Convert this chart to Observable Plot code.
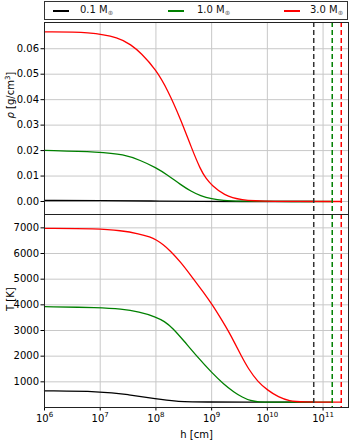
<!DOCTYPE html>
<html><head><meta charset="utf-8">
<script src="https://cdn.jsdelivr.net/npm/d3@7"></script>
<script src="https://cdn.jsdelivr.net/npm/@observablehq/plot@0.6"></script>
<style>
body{margin:0;background:#fff;font-family:"DejaVu Sans",sans-serif;}
#wrap{position:relative;width:352px;height:440px;overflow:hidden;}
#legend{position:absolute;left:44px;top:1px;width:302px;height:17px;border:1px solid #333;box-sizing:content-box;font-size:10px;}
#legend .ln{position:absolute;top:8px;width:16px;height:1.5px;}
#legend .lt{position:absolute;top:2px;line-height:12px;white-space:nowrap;color:#111;}
#legend sub{font-size:6.5px;color:#777;vertical-align:-2px;}
#top,#bot{position:absolute;left:0;}
#top{top:0;}
#bot{top:214px;}
</style></head>
<body><div id="wrap">
<div id="top"></div><div id="bot"></div>
<div id="legend"></div>
</div>
<script>
// ---- data ----
const masses = ["0.1", "1.0", "3.0"];
const colors = ["#000000", "#008000", "#ff0000"];
// dashed boundary positions h [cm]
const boundaries = [6.8e10, 1.46e11, 2.12e11];

// density rho [g/cm^3] vs log10 h
const rhoLogH_01 = [6.0, 7.0, 8.0, 8.5, 10.83];
const rho_01     = [0.0004, 0.0004, 0.0002, 0.0, 0.0];
const rhoLogH_10 = [6.0, 7.0, 7.42, 7.72, 8.0, 8.21, 8.45, 8.63, 8.8, 9.0, 9.2, 9.5, 10.0, 11.165];
const rho_10     = [0.0201, 0.0195, 0.0185, 0.0162, 0.0133, 0.0104, 0.0065, 0.0040, 0.0022, 0.0010, 0.0004, 0.0001, 0.0, 0.0];
const rhoLogH_30 = [6.0, 6.83, 7.34, 7.55, 7.73, 8.0, 8.21, 8.45, 8.63, 8.80, 8.9, 9.0, 9.22, 9.52, 10.0, 11.326];
const rho_30     = [0.0666, 0.0666, 0.0643, 0.0616, 0.0584, 0.0518, 0.0439, 0.0320, 0.0215, 0.0125, 0.0090, 0.0064, 0.0025, 0.0005, 0.0, 0.0];

// temperature T [K] vs log10 h
const TLogH_01 = [6.0, 7.0, 7.5, 8.0, 8.4, 8.6, 10.83];
const T_01     = [650, 630, 506, 338, 233, 210, 210];
const TLogH_10 = [6.0, 7.0, 7.37, 7.7, 8.0, 8.15, 8.3, 8.5, 8.74, 9.0, 9.22, 9.4, 9.55, 9.7, 9.85, 10.0, 11.165];
const T_10     = [3930, 3891, 3840, 3730, 3530, 3360, 3100, 2600, 1980, 1360, 900, 600, 400, 260, 215, 210, 210];
const TLogH_30 = [6.0, 6.95, 7.37, 7.7, 7.9, 8.0, 8.13, 8.26, 8.44, 8.66, 8.85, 9.02, 9.17, 9.3, 9.41, 9.52, 9.66, 9.83, 10.0, 10.2, 10.4, 10.6, 11.326];
const T_30     = [6980, 6970, 6895, 6770, 6640, 6545, 6350, 6100, 5680, 5050, 4500, 3980, 3450, 2980, 2530, 2060, 1500, 1000, 680, 400, 250, 212, 210];

const xTicks = [1e6, 1e7, 1e8, 1e9, 1e10, 1e11];
const rhoTicks = [0, 0.01, 0.02, 0.03, 0.04, 0.05, 0.06];
const TTicks = [1000, 2000, 3000, 4000, 5000, 6000, 7000];

// ---- build tables ----
function rows(lh, vals, i) { return lh.map((l, k) => ({h: Math.pow(10, l), v: vals[k], m: masses[i], c: colors[i]})); }
const rhoRows = [...rows(rhoLogH_01, rho_01, 0), ...rows(rhoLogH_10, rho_10, 1), ...rows(rhoLogH_30, rho_30, 2)];
const TRows = [...rows(TLogH_01, T_01, 0), ...rows(TLogH_10, T_10, 1), ...rows(TLogH_30, T_30, 2)];
const bRows = boundaries.map((b, i) => ({h: b, c: colors[i] === "#000000" ? "#333333" : colors[i]}));

const xDomain = [1e6, 2.86e11];
const style = {fontFamily: "'DejaVu Sans', sans-serif", fontSize: "10px", background: "transparent", overflow: "visible", color: "#000"};
const gridStroke = "#c8c8c8";

const topPlot = Plot.plot({
  width: 352, height: 215, marginTop: 22, marginBottom: 1, marginLeft: 44, marginRight: 4,
  style,
  x: {type: "log", domain: xDomain, axis: null},
  y: {domain: [-0.0051, 0.0703]},
  marks: [
    Plot.gridY(rhoTicks, {stroke: gridStroke, strokeOpacity: 1}),
    Plot.gridX(xTicks, {stroke: gridStroke, strokeOpacity: 1}),
    Plot.line(rhoRows, {x: "h", y: "v", z: "m", stroke: "c", strokeWidth: 1.3, curve: "basis"}),
    Plot.ruleX(bRows, {x: "h", stroke: "c", strokeWidth: 1.5, strokeDasharray: "5,3"}),
    Plot.axisY(rhoTicks, {tickFormat: d => d.toFixed(2), tickSize: 3.5, tickPadding: 2, label: null}),
    Plot.frame({stroke: "#222"}),
    Plot.text(["ρ [g/cm3]"], {frameAnchor: "left", dx: -34, rotate: -90})
  ]
});
document.getElementById("top").appendChild(topPlot);

const botPlot = Plot.plot({
  width: 352, height: 226, marginTop: 0, marginBottom: 33, marginLeft: 44, marginRight: 4,
  style,
  x: {type: "log", domain: xDomain},
  y: {domain: [0, 7520]},
  marks: [
    Plot.gridY(TTicks, {stroke: gridStroke, strokeOpacity: 1}),
    Plot.gridX(xTicks, {stroke: gridStroke, strokeOpacity: 1}),
    Plot.line(TRows, {x: "h", y: "v", z: "m", stroke: "c", strokeWidth: 1.3, curve: "basis"}),
    Plot.ruleX(bRows, {x: "h", stroke: "c", strokeWidth: 1.5, strokeDasharray: "5,3"}),
    Plot.axisY(TTicks, {tickSize: 3.5, tickPadding: 2, label: null, tickFormat: d => String(d)}),
    Plot.axisX(xTicks, {tickFormat: d => String(Math.round(Math.log10(d))), tickSize: 3.5, tickPadding: 4, label: "h [cm]", labelAnchor: "center", labelArrow: "none", labelOffset: 30}),
    Plot.frame({stroke: "#222"}),
    Plot.text(["T [K]"], {frameAnchor: "left", dx: -34, rotate: -90})
  ]
});
document.getElementById("bot").appendChild(botPlot);

// superscript power-of-ten tick labels
d3.select(botPlot).selectAll('g[aria-label="x-axis tick label"] text').each(function() {
  const t = d3.select(this);
  const e = t.text();
  t.text(null);
  t.append("tspan").text("10");
  t.append("tspan").attr("font-size", "7px").attr("dy", "-0.75em").text(e);
});
// styled density label: italic rho, superscript 3
d3.select(topPlot).selectAll("text").each(function() {
  const t = d3.select(this);
  if (t.text() === "ρ [g/cm3]") {
    t.text(null);
    t.append("tspan").attr("font-style", "italic").text("ρ");
    t.append("tspan").text(" [g/cm");
    t.append("tspan").attr("font-size", "7px").attr("dy", "-0.6em").text("3");
    t.append("tspan").attr("dy", "0.42em").text("]");
  }
});

// legend
const lg = document.getElementById("legend");
const lnLeft = [8, 123, 239], txLeft = [35, 152, 265];
masses.forEach((m, i) => {
  const ln = document.createElement("span");
  ln.className = "ln"; ln.style.left = lnLeft[i] + "px"; ln.style.background = colors[i];
  const tx = document.createElement("span");
  tx.className = "lt"; tx.style.left = txLeft[i] + "px";
  tx.innerHTML = m + " M<sub>⊕</sub>";
  lg.appendChild(ln); lg.appendChild(tx);
});
</script>
</body></html>
